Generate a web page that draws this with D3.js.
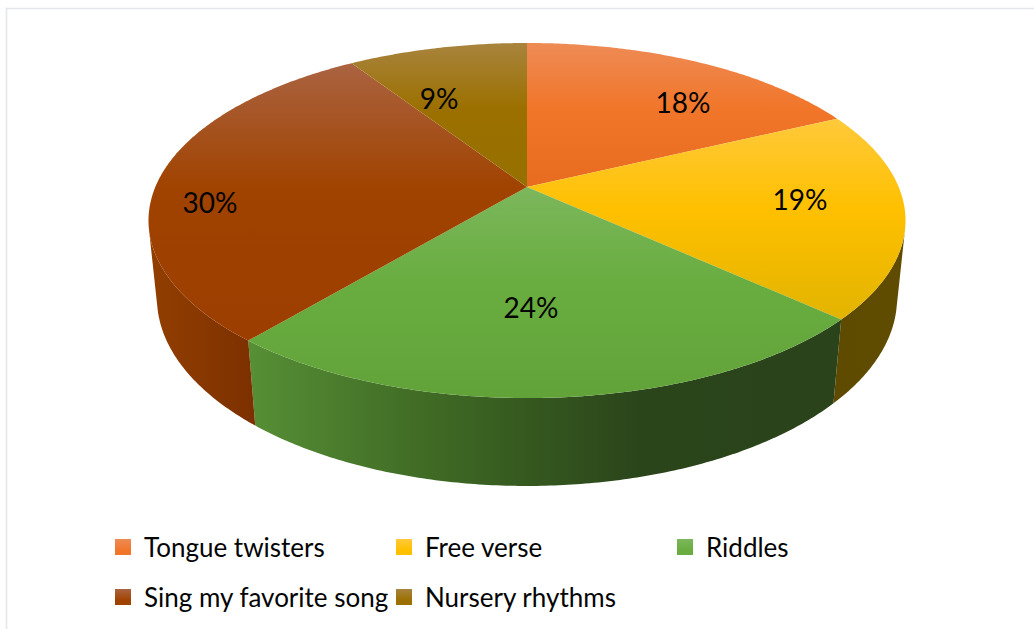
<!DOCTYPE html>
<html><head><meta charset="utf-8">
<script src="https://cdn.jsdelivr.net/npm/d3@7"></script>
<style>html,body{margin:0;padding:0;background:#fff;overflow:hidden}svg{display:block}text{font-family:Lato,"Open Sans",sans-serif;fill:#050505}</style>
</head><body><svg id="c" width="1034" height="629"></svg>
<script>
const categories=["Tongue twisters","Free verse","Riddles","Sing my favorite song","Nursery rhythms"];
const values=[17.9,18.9,24.28,29.72,9.2];
const topStops=[
 ["#ee8b55","#f1762a","#e76c1f"],
 ["#ffc93a","#ffc000","#e2b400"],
 ["#7cb75c","#69ad40","#62a339"],
 ["#ab6341","#a04300","#9b3e00"],
 ["#a8843e","#9c7000","#957000"]];
const svg=d3.select("#c");
const defs=svg.append("defs");
// perspective model
const cx=527,cy=187,A=371.7,B=171.2,K=0.1888,DROP=77.9,DW=0.022;
const project=(t,low)=>{
  const u=Math.sin(t),v=Math.cos(t),w=1+K*v+(low?DW:0);
  return [cx+A*u/w, cy+(-B*v+(low?DROP:0))/w];
};
const arcs=d3.pie().value(d=>d).sort(null)(values);
svg.append("path").attr("d","M6.5,629V8.5H1034").attr("fill","none").attr("stroke","#e3e6ea").attr("stroke-width",1.6);

function sideGrad(id,stops){
  const g=defs.append("linearGradient").attr("id",id).attr("gradientUnits","userSpaceOnUse")
   .attr("x1",148).attr("x2",905).attr("y1",0).attr("y2",0);
  stops.forEach(s=>g.append("stop").attr("offset",s[0]).attr("stop-color",s[1]));
}
const sx=x=>(x-148)/757;
sideGrad("side0",[[0,"#6b3a12"],[1,"#6b3a12"]]);
sideGrad("side1",[[sx(835),"#5f4b00"],[sx(900),"#604c00"]]);
sideGrad("side2",[[sx(250),"#568f35"],[sx(330),"#4c7e2e"],[sx(430),"#3f6a24"],[sx(530),"#35581f"],[sx(640),"#2b451b"],[sx(834),"#2a431a"]]);
sideGrad("side3",[[sx(150),"#923e00"],[sx(200),"#883800"],[sx(256),"#7c3000"]]);
sideGrad("side4",[[0,"#6b5000"],[1,"#6b5000"]]);

const step=0.01;
const samples=(a,b)=>{const n=Math.ceil((b-a)/step);return d3.range(n+1).map(i=>a+(b-a)*i/n);};
const sideG=svg.append("g");
arcs.forEach((d,i)=>{
  const ts=samples(d.startAngle,d.endAngle);
  const p=d3.path();
  for(let j=0;j<ts.length-1;j++){
    const q=[project(ts[j],false),project(ts[j+1],false),project(ts[j+1],true),project(ts[j],true)];
    if(d3.polygonArea(q)<0) continue; // back-facing
    p.moveTo(q[0][0],q[0][1]);q.slice(1).forEach(c=>p.lineTo(c[0],c[1]));p.closePath();
  }
  sideG.append("path").attr("d",p.toString()).attr("fill",`url(#side${i})`);
});
const line=d3.line();
const topG=svg.append("g");
arcs.forEach((d,i)=>{
  const pts=[[cx,cy],...samples(d.startAngle,d.endAngle).map(t=>project(t,false))];
  const g=defs.append("linearGradient").attr("id",`top${i}`).attr("x1",0).attr("x2",0).attr("y1",0).attr("y2",1);
  [[0,0],[.45,1],[1,2]].forEach(s=>g.append("stop").attr("offset",s[0]).attr("stop-color",topStops[i][s[1]]));
  topG.append("path").attr("d",line(pts)+"Z").attr("fill",`url(#top${i})`);
});
// labels
const labelPos=[[683,103],[800,200],[531,308],[210,203],[439,99]];
const fmt=d3.format(".0f");
svg.append("g").selectAll("text").data(values).join("text")
 .attr("x",(d,i)=>labelPos[i][0]).attr("y",(d,i)=>labelPos[i][1]).attr("dy","0.35em")
 .attr("text-anchor","middle").attr("font-size",28).text(d=>fmt(d)+"%");
// legend
const legendX=[115,396,677,115,396],legendY=[547,547,547,597,597];
const lg=svg.append("g").selectAll("g").data(categories).join("g")
 .attr("transform",(d,i)=>`translate(${legendX[i]},${legendY[i]})`);
categories.forEach((c,i)=>{
  const g=defs.append("linearGradient").attr("id",`leg${i}`).attr("x1",0).attr("x2",0).attr("y1",0).attr("y2",1);
  g.append("stop").attr("offset",0).attr("stop-color",topStops[i][0]);
  g.append("stop").attr("offset",.7).attr("stop-color",topStops[i][1]);
});
lg.append("rect").attr("x",0).attr("y",-8).attr("width",16).attr("height",16).attr("fill",(d,i)=>`url(#leg${i})`);
lg.append("text").attr("x",29).attr("y",1).attr("dy","0.35em").attr("font-size",26).text(d=>d);
</script></body></html>
